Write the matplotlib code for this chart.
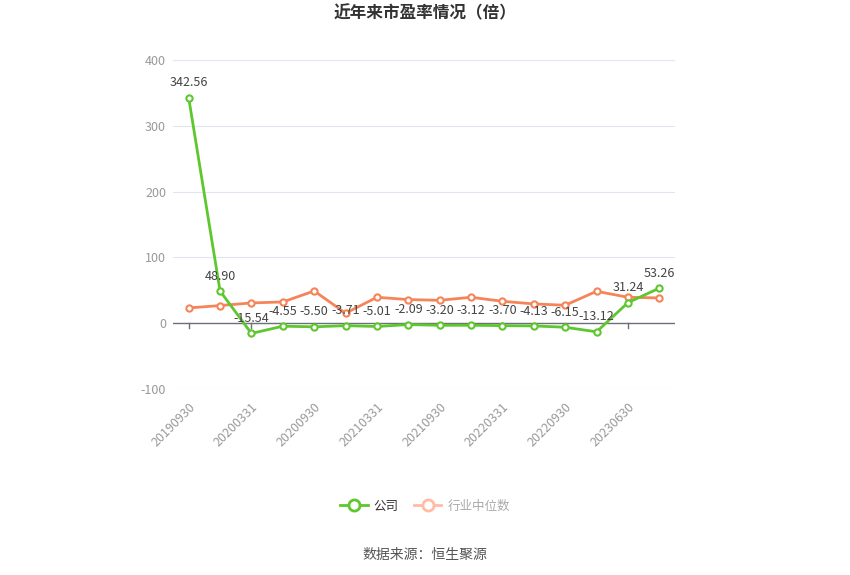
import matplotlib.pyplot as plt
from matplotlib.lines import Line2D

plt.rcParams['font.family'] = ['Noto Sans CJK SC', 'DejaVu Sans']
plt.rcParams['axes.unicode_minus'] = False

dates = ['20190930', '20191231', '20200331', '20200630', '20200930', '20201231',
         '20210331', '20210630', '20210930', '20211231', '20220331', '20220630',
         '20220930', '20230331', '20230630', '20230930']
company = [342.56, 48.90, -15.54, -4.55, -5.50, -3.71, -5.01, -2.09,
           -3.20, -3.12, -3.70, -4.13, -6.15, -13.12, 31.24, 53.26]
industry = [23.2, 26.8, 30.8, 32.3, 49.0, 15.2, 39.4, 35.9,
            34.8, 39.4, 33.3, 29.3, 27.3, 48.5, 39.4, 38.4]

green = '#5ec72e'
orange = '#f58559'

fig = plt.figure(figsize=(8.5, 5.75), dpi=100)
ax = fig.add_axes([173 / 850, 1 - 389 / 575, 502 / 850, 329 / 575])

x = list(range(len(dates)))
ax.plot(x, industry, color=orange, lw=2, marker='o', markersize=4.5,
        markerfacecolor='white', markeredgewidth=1.5, zorder=3)
ax.plot(x, company, color=green, lw=2, marker='o', markersize=4.5,
        markerfacecolor='white', markeredgewidth=1.5, zorder=4)

for xi, v in zip(x, company):
    ax.annotate(f'{v:.2f}', (xi, v), xytext=(0, 6), textcoords='offset points',
                ha='center', va='bottom', fontsize=9, color='#444444', zorder=5)

ax.set_xlim(-0.5, 15.5)
ax.set_ylim(-100, 400)
ax.set_yticks([-100, 0, 100, 200, 300, 400])
ax.grid(axis='y', color='#e0e6f1', lw=0.8)
ax.set_axisbelow(True)
ax.axhline(0, color='#6e7079', lw=1, zorder=2)
for s in ax.spines.values():
    s.set_visible(False)

ax.set_xticks(x[::2])
ax.set_xticklabels(dates[::2], rotation=45, ha='right', rotation_mode='anchor',
                   fontsize=9, color='#999999')
ax.tick_params(axis='x', length=0, pad=8)
ax.tick_params(axis='y', length=0, labelsize=9, labelcolor='#999999', pad=5)
# small tick marks on the zero line
for xi in x[::2]:
    ax.plot([xi, xi], [0, -7], color='#6e7079', lw=1, zorder=2, clip_on=False)

fig.text(0.5, 0.977, '近年来市盈率情况（倍）', ha='center', va='center',
         fontsize=12, fontweight='bold', color='#333333')

handles = [Line2D([], [], color=green, lw=2, marker='o', markersize=8,
                  markerfacecolor='white', markeredgewidth=2),
           Line2D([], [], color='#ffbba3', lw=2, marker='o', markersize=8,
                  markerfacecolor='white', markeredgewidth=2)]
leg = fig.legend(handles, ['公司', '行业中位数'], loc='center', bbox_to_anchor=(0.5, 0.12),
                 ncol=2, frameon=False, fontsize=9, handlelength=2.2,
                 columnspacing=1.2, handletextpad=0.5)
leg.get_texts()[0].set_color('#333333')
leg.get_texts()[1].set_color('#aaaaaa')

fig.text(0.5, 0.035, '数据来源：恒生聚源', ha='center', va='center',
         fontsize=10, color='#555555')

fig.savefig('out.png', dpi=100)
